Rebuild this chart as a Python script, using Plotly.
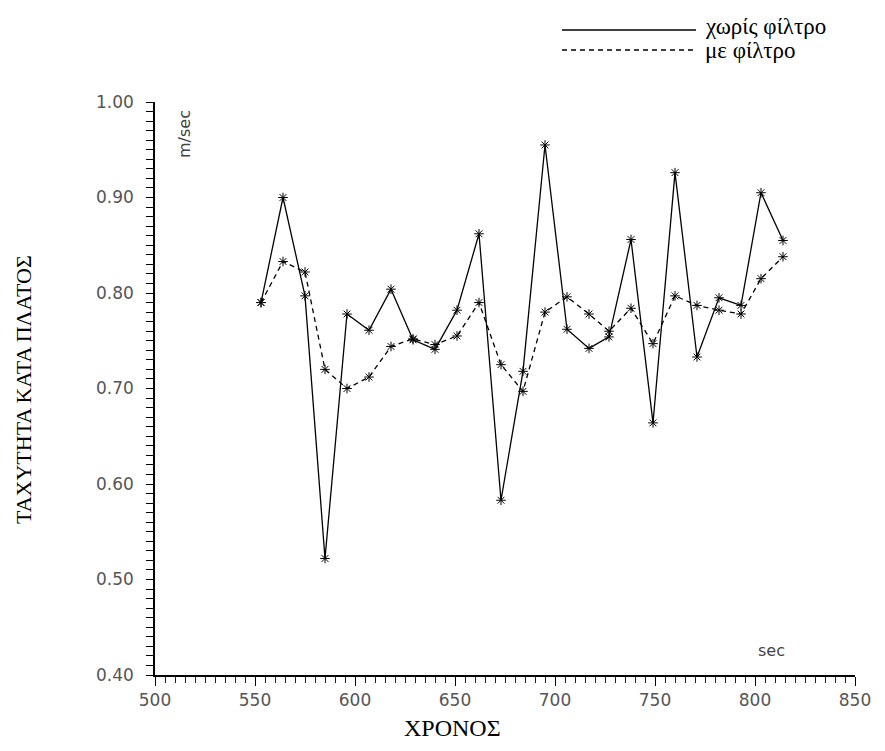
import plotly.graph_objects as go

# time (sec)
times = [553, 564, 575, 585, 596, 607, 618, 629, 640, 651, 662, 673, 684,
         695, 706, 717, 727, 738, 749, 760, 771, 782, 793, 803, 814]
# velocity without filter (m/sec)
no_filter = [0.790, 0.900, 0.797, 0.522, 0.778, 0.761, 0.804, 0.751, 0.741,
             0.782, 0.862, 0.583, 0.718, 0.955, 0.762, 0.742, 0.754, 0.856,
             0.664, 0.926, 0.733, 0.795, 0.787, 0.905, 0.855]
# velocity with filter (m/sec)
with_filter = [0.790, 0.833, 0.822, 0.720, 0.700, 0.712, 0.744, 0.752, 0.746,
               0.755, 0.790, 0.725, 0.697, 0.780, 0.796, 0.778, 0.760, 0.784,
               0.747, 0.797, 0.787, 0.782, 0.778, 0.815, 0.838]

x_range = [500, 850]
x_step = 50
x_minor_step = 5
y_range = [0.40, 1.00]

# y ticks every 0.01, labelled every 0.10
y_tickvals = [round(0.40 + i * 0.01, 2) for i in range(61)]
y_ticktext = [f"{v:.2f}" if i % 10 == 0 else ""
              for i, v in enumerate(y_tickvals)]

legend_names = ["χωρίς φίλτρο", "με φίλτρο"]

W, H = 885, 751
L, R, T, B = 155, 30, 102, 76
pw, ph = W - L - R, H - T - B


def px(x):
    return (x - L) / pw


def py(y):
    return (H - B - y) / ph


fig = go.Figure()
marker = dict(symbol="asterisk-open", size=8, color="black",
              line=dict(color="black", width=1))
fig.add_trace(go.Scatter(x=times, y=no_filter, mode="lines+markers",
                         name=legend_names[0],
                         line=dict(color="black", width=1.3),
                         marker=marker, showlegend=False))
fig.add_trace(go.Scatter(x=times, y=with_filter, mode="lines+markers",
                         name=legend_names[1],
                         line=dict(color="black", width=1.3, dash="5px,4px"),
                         marker=marker, showlegend=False))

tickfont = dict(family="DejaVu Sans", size=17, color="#555")
serif = "Liberation Serif"

fig.update_layout(
    width=W, height=H,
    margin=dict(l=L, r=R, t=T, b=B),
    paper_bgcolor="white", plot_bgcolor="white",
    xaxis=dict(range=x_range, tickmode="linear", tick0=x_range[0],
               dtick=x_step, showgrid=False, zeroline=False, showline=True,
               linecolor="black", linewidth=1.5,
               ticks="outside", ticklen=9, tickwidth=1.2, tickcolor="black",
               minor=dict(dtick=x_minor_step, ticks="outside", ticklen=6,
                          tickwidth=1, tickcolor="#222", showgrid=False),
               tickfont=tickfont),
    yaxis=dict(range=y_range, tickmode="array", tickvals=y_tickvals,
               ticktext=y_ticktext,
               showgrid=False, zeroline=False, showline=True,
               linecolor="black", linewidth=1.5,
               ticks="outside", ticklen=7, tickwidth=1.1, tickcolor="black",
               tickfont=tickfont, ticklabelstandoff=9),
)

ann_common = dict(xref="paper", yref="paper", showarrow=False,
                  yanchor="middle")
annotations = [
    dict(text="ΤΑΧΥΤΗΤΑ ΚΑΤΑ ΠΛΑΤΟΣ", x=px(23), y=py(390), textangle=-90,
         xanchor="center", font=dict(family=serif, size=22, color="black"),
         **ann_common),
    dict(text="ΧΡΟΝΟΣ", x=px(452), y=py(728), xanchor="center",
         font=dict(family=serif, size=24, color="black"), **ann_common),
    dict(text="m/sec", x=px(184), y=py(134), textangle=-90, xanchor="center",
         font=dict(family="DejaVu Sans", size=16, color="#444"),
         **ann_common),
    dict(text="sec", x=px(771), y=py(650), xanchor="center",
         font=dict(family="DejaVu Sans", size=16, color="#444"),
         **ann_common),
    dict(text=legend_names[0], x=px(703), y=py(27), xanchor="left",
         font=dict(family=serif, size=23, color="black"), **ann_common),
    dict(text=legend_names[1], x=px(703), y=py(51), xanchor="left",
         font=dict(family=serif, size=23, color="black"), **ann_common),
]
fig.update_layout(annotations=annotations)

fig.add_shape(type="line", xref="paper", yref="paper",
              x0=px(562), x1=px(696), y0=py(30), y1=py(30),
              line=dict(color="black", width=1.3))
fig.add_shape(type="line", xref="paper", yref="paper",
              x0=px(562), x1=px(696), y0=py(50), y1=py(50),
              line=dict(color="black", width=1.3, dash="5px,4px"))

fig.write_html("out.html")
